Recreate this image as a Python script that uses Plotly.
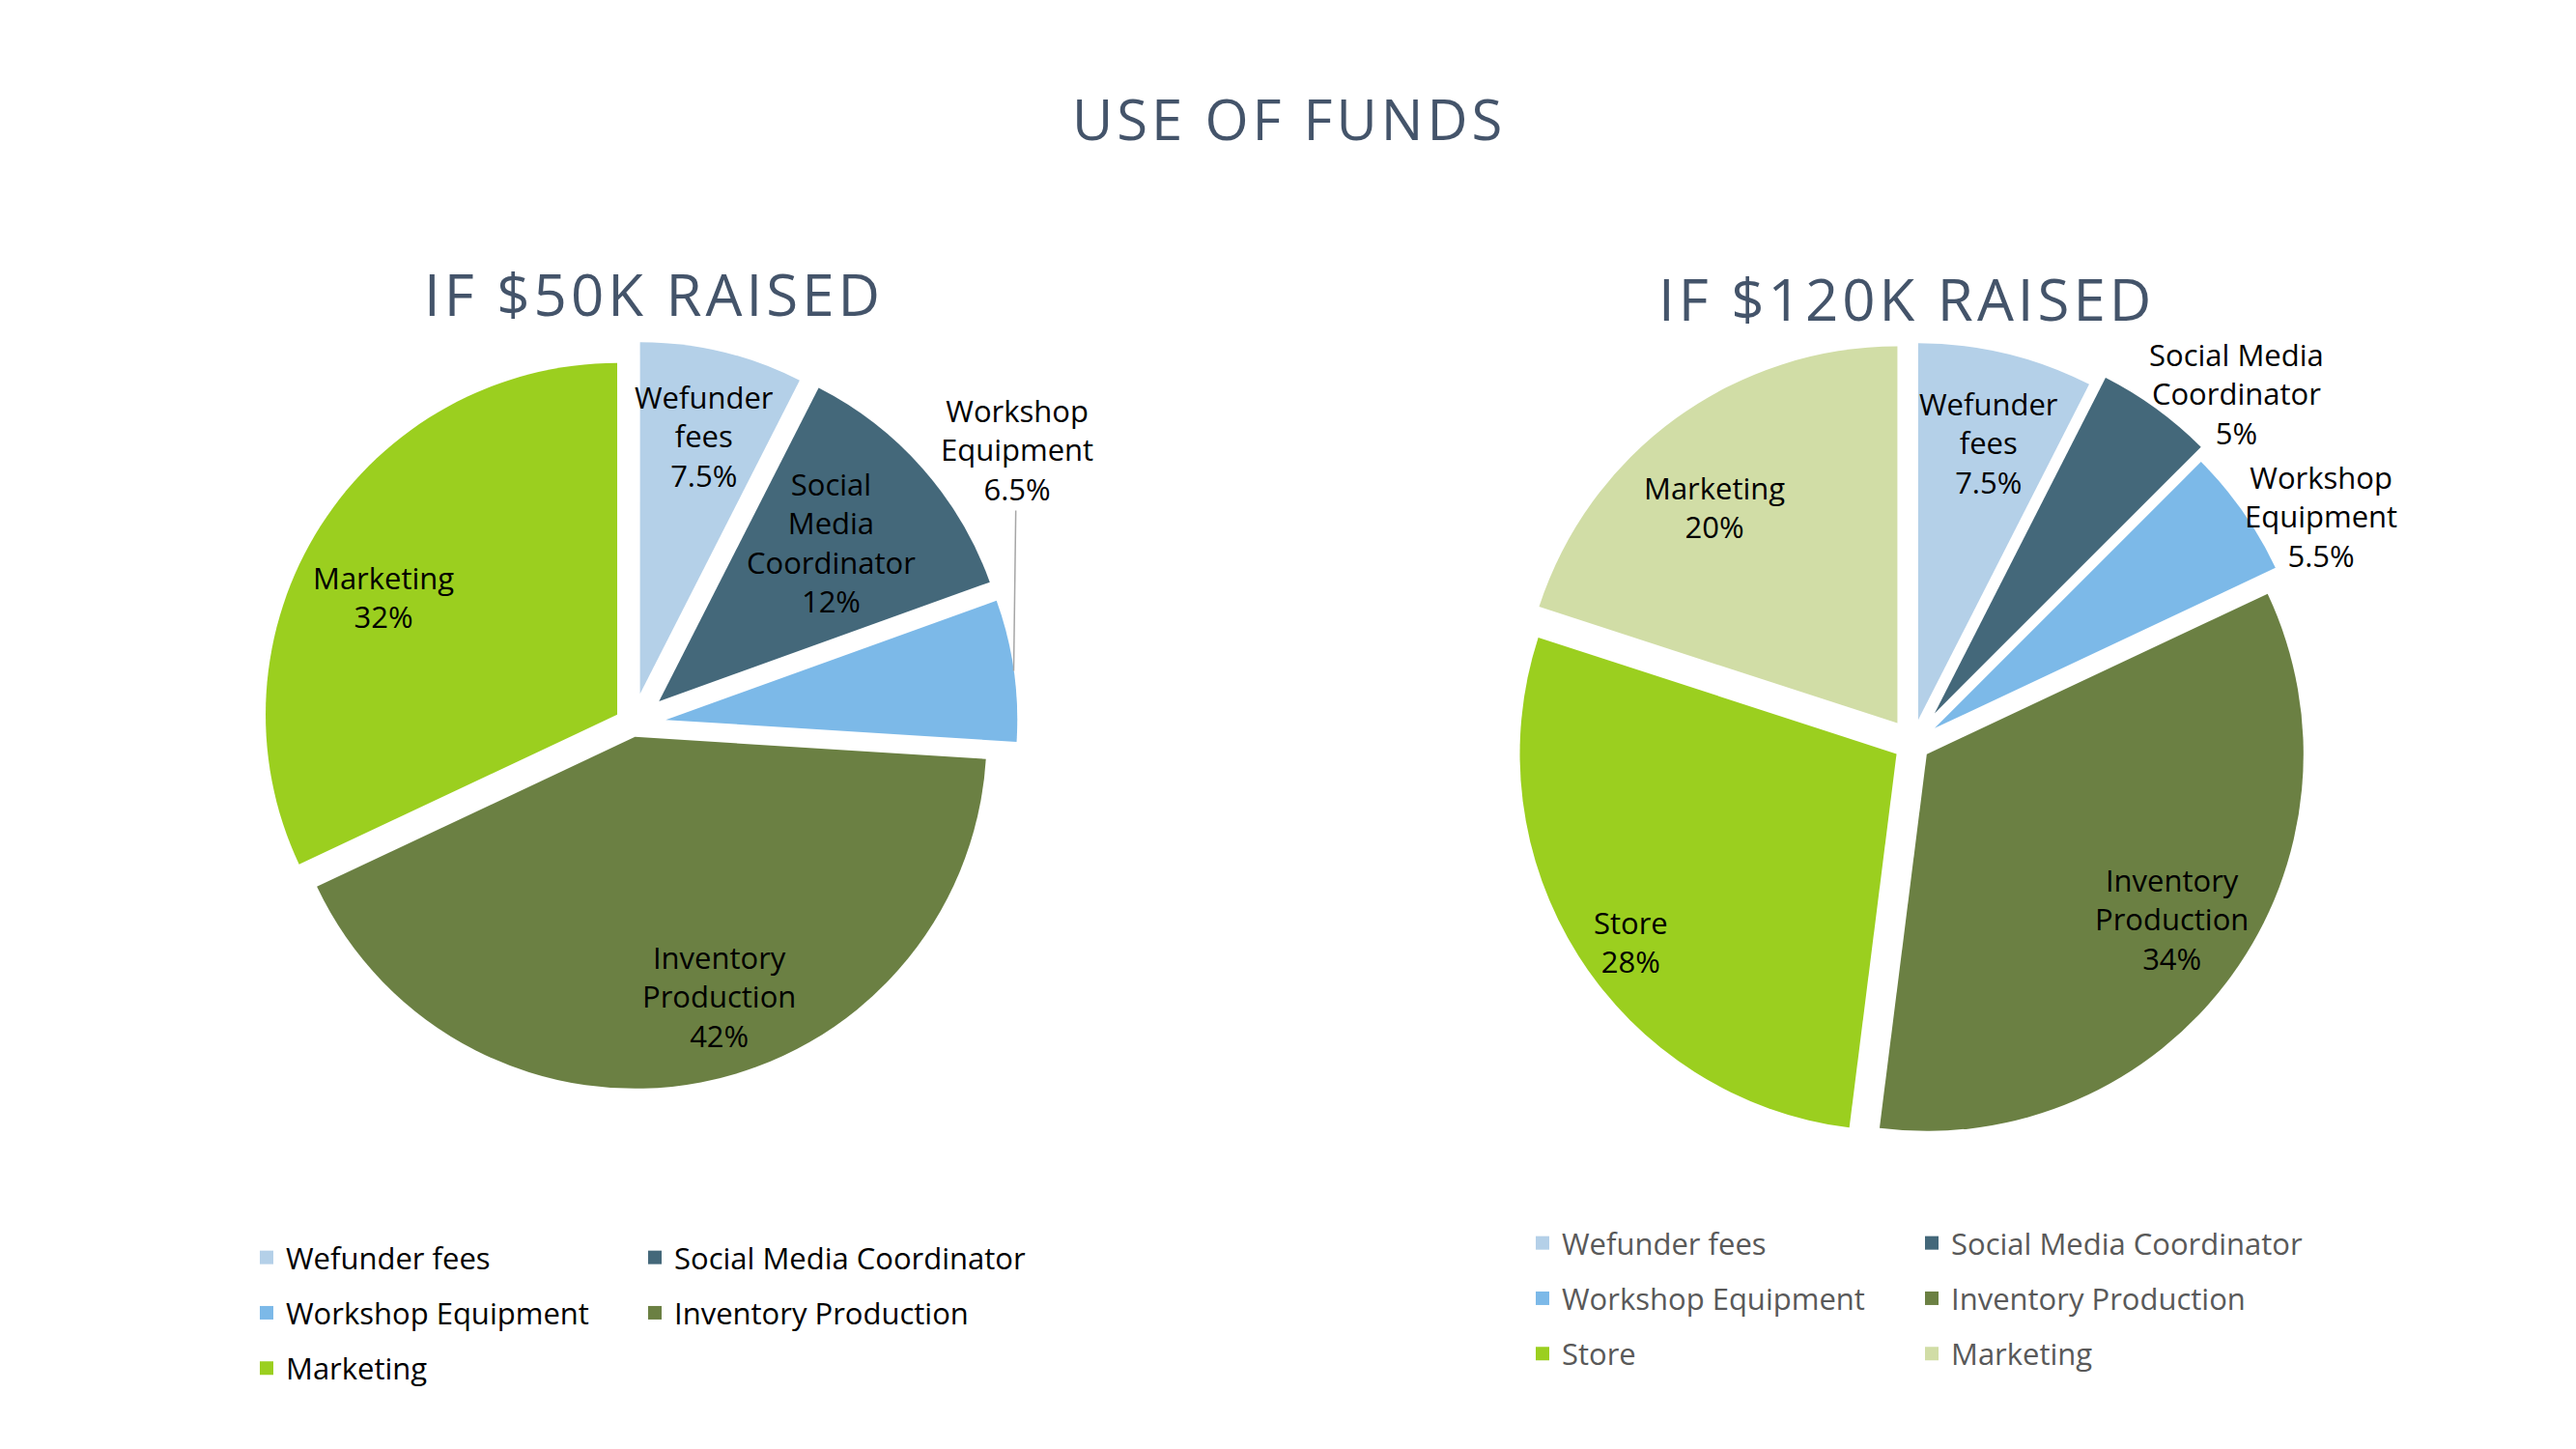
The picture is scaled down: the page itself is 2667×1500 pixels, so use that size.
import math
import plotly.graph_objects as go

W, H = 2667, 1500
OFF = 8  # the page body margin shifts the plot div by 8px
FONT = "Open Sans"
TITLE_COLOR = "#44546A"

# ---- data: if $50K raised ----
left_labels = ["Wefunder fees", "Social Media Coordinator", "Workshop Equipment",
               "Inventory Production", "Marketing"]
left_values = [7.5, 12, 6.5, 42, 32]
left_slice_text = ["Wefunder<br>fees", "Social<br>Media<br>Coordinator", "Workshop<br>Equipment",
                   "Inventory<br>Production", "Marketing"]
left_colors = ["#B4D0E8", "#44687A", "#7CB9E8", "#6B8043", "#9BCF1F"]

# ---- data: if $120K raised ----
right_labels = ["Wefunder fees", "Social Media Coordinator", "Workshop Equipment",
                "Inventory Production", "Store", "Marketing"]
right_values = [7.5, 5, 5.5, 34, 28, 20]
right_slice_text = ["Wefunder<br>fees", "Social Media<br>Coordinator", "Workshop<br>Equipment",
                    "Inventory<br>Production", "Store", "Marketing"]
right_colors = ["#B4D0E8", "#44687A", "#7CB9E8", "#6B8043", "#9BCF1F", "#D1DDA6"]

# ---- layout of the two pies (pixels) ----
left_geo = dict(cx=655, cy=750, r=364)
right_geo = dict(cx=1980, cy=770, r=390)
left_pull = [0.09, 0.10, 0.095, 0.036, 0.052]
right_pull = [0.065, 0.10, 0.072, 0.047, 0.05, 0.068]
# label placement: (fraction of radius from centre, angle nudge in degrees)
left_lab = [(0.84, 1.5), (0.77, 0), (1.107, 0.6), (0.825, -7.6), (0.78, -5.4)]
right_lab = [(0.82, 1.8), (1.27, 7.5), (1.25, 6.6), (0.846, -2.1), (0.907, -3.6), (0.805, -3.6)]
LAB_DX, LAB_DY = -5, -3


def px2paper(px, py):
    return (px - OFF) / W, 1 - (py - OFF) / H


def domain_for(geo, pulls):
    half = geo["r"] * (1 + max(pulls))
    x0, y1 = px2paper(geo["cx"] - half, geo["cy"] - half)
    x1, y0 = px2paper(geo["cx"] + half, geo["cy"] + half)
    return dict(x=[x0, x1], y=[y0, y1])


def label_pos(values, i, geo, k, nudge):
    total = sum(values)
    mid = (sum(values[:i]) + values[i] / 2) / total * 360 + nudge
    t = math.radians(mid)
    px = geo["cx"] + k * geo["r"] * math.sin(t) + LAB_DX
    py = geo["cy"] - k * geo["r"] * math.cos(t) + LAB_DY
    return px2paper(px, py)


def pct(values, i):
    return f"{values[i] / sum(values) * 100:g}%"


def spaced(text, px):
    return f'<span style="letter-spacing:{px}px">{text}</span>'


fig = go.Figure()

for labels, values, colors, pulls, geo in [
    (left_labels, left_values, left_colors, left_pull, left_geo),
    (right_labels, right_values, right_colors, right_pull, right_geo),
]:
    fig.add_trace(go.Pie(
        labels=labels, values=values, sort=False, direction="clockwise", rotation=0,
        marker=dict(colors=colors, line=dict(width=0)),
        pull=pulls, textinfo="none", showlegend=False, hoverinfo="label+percent",
        domain=domain_for(geo, pulls),
    ))

annotations = []
lab_font = dict(family=FONT, size=31, color="#000000")
centered = dict(xref="paper", yref="paper", xanchor="center", yanchor="middle")

# slice labels, left pie
for i, txt in enumerate(left_slice_text):
    k, nudge = left_lab[i]
    x, y = label_pos(left_values, i, left_geo, k, nudge)
    text = f"{txt}<br>{pct(left_values, i)}"
    if i == 2:
        # outside label with a leader line
        annotations.append(dict(x=x, y=y, text=text, showarrow=True, arrowhead=0,
                                arrowwidth=1.5, arrowcolor="#A6A6A6", ax=3, ay=-229,
                                font=lab_font, **centered))
    else:
        annotations.append(dict(x=x, y=y, text=text, showarrow=False, font=lab_font, **centered))

# slice labels, right pie
for i, txt in enumerate(right_slice_text):
    k, nudge = right_lab[i]
    x, y = label_pos(right_values, i, right_geo, k, nudge)
    annotations.append(dict(x=x, y=y, text=f"{txt}<br>{pct(right_values, i)}",
                            showarrow=False, font=lab_font, **centered))

# titles
for text, (px, py), size in [
    ("USE OF FUNDS", (1334, 123), 58),
    ("IF $50K RAISED", (677, 304), 60),
    ("IF $120K RAISED", (1974, 309), 60),
]:
    x, y = px2paper(px, py)
    annotations.append(dict(x=x, y=y, text=spaced(text, 4), showarrow=False,
                            font=dict(family=FONT, size=size, color=TITLE_COLOR), **centered))

# legends: two columns per pie, built from legend-only marker traces
legend_specs = [
    (left_labels, left_colors, "legend", "legend2"),
    (right_labels, right_colors, "legend3", "legend4"),
]
for labels, colors, col1, col2 in legend_specs:
    for i, (name, c) in enumerate(zip(labels, colors)):
        fig.add_trace(go.Scatter(
            x=[None], y=[None], mode="markers", name=name,
            marker=dict(symbol="square", size=14, color=c),
            legend=col1 if i % 2 == 0 else col2,
            legendgroup=f"{col1}-{i}", showlegend=True, hoverinfo="skip",
        ))

leg_common = dict(orientation="v", xanchor="left", yanchor="top", bgcolor="rgba(0,0,0,0)",
                  tracegroupgap=14, itemclick=False, itemdoubleclick=False)
left_leg_font = dict(family=FONT, size=31, color="#000000")
right_leg_font = dict(family=FONT, size=31, color="#595959")


def leg_pos(px, py):
    x, y = px2paper(px, py)
    return dict(x=x, y=y)


fig.update_layout(
    width=W, height=H,
    margin=dict(l=0, r=0, t=0, b=0),
    paper_bgcolor="white", plot_bgcolor="white",
    xaxis=dict(visible=False), yaxis=dict(visible=False),
    annotations=annotations,
    legend=dict(**leg_pos(256, 1275), font=left_leg_font, **leg_common),
    legend2=dict(**leg_pos(658, 1275), font=left_leg_font, **leg_common),
    legend3=dict(**leg_pos(1577, 1260), font=right_leg_font, **leg_common),
    legend4=dict(**leg_pos(1980, 1260), font=right_leg_font, **leg_common),
)

fig.write_html("out.html")
